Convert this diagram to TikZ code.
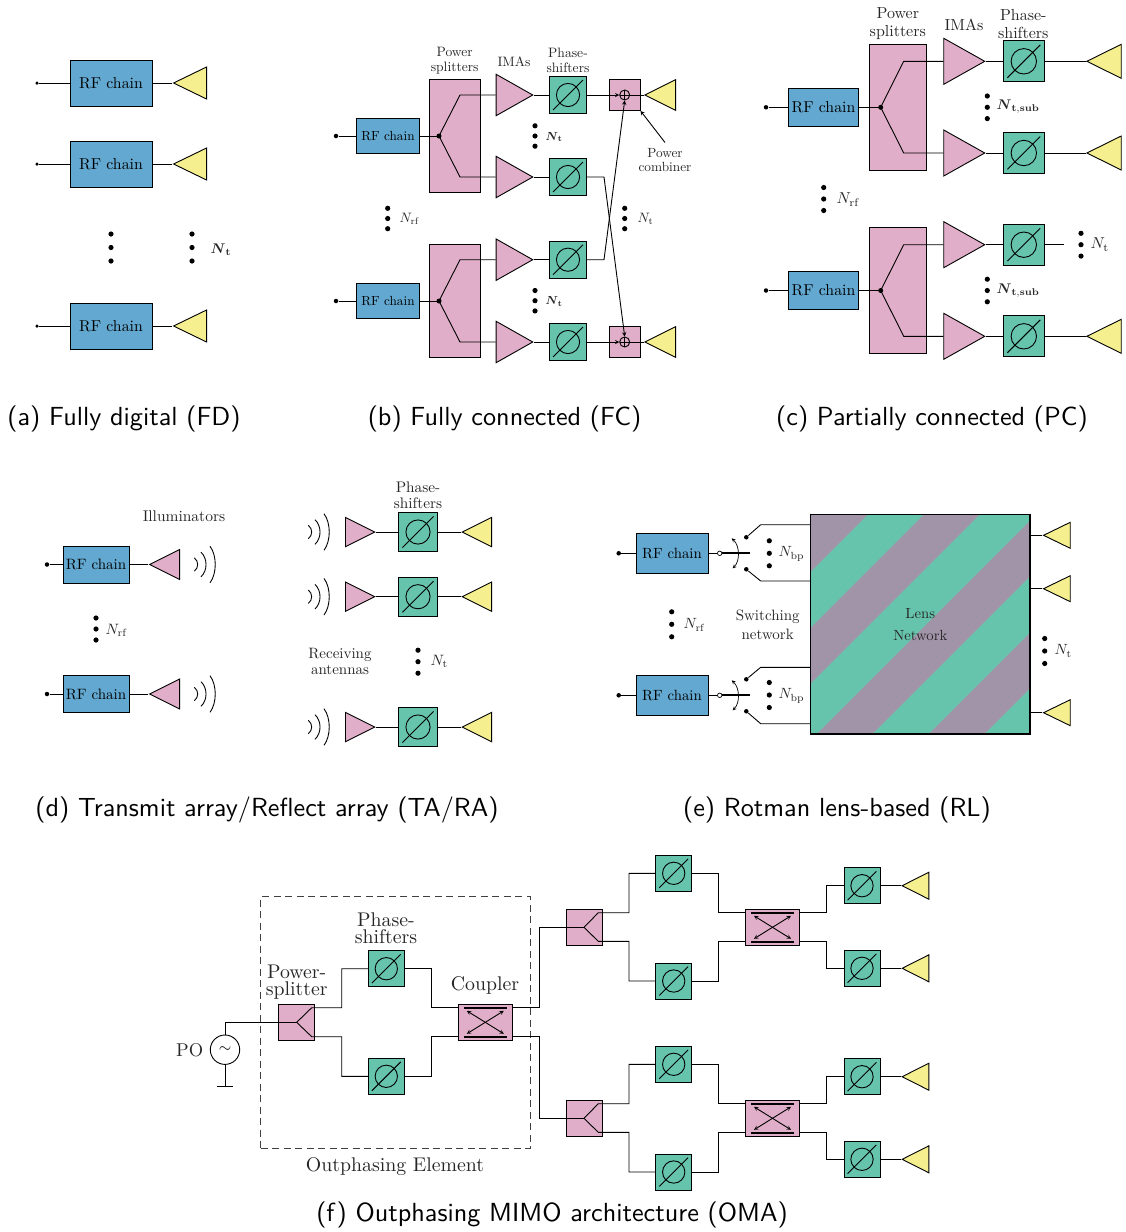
\documentclass[tikz,border=0pt]{standalone}
\usepackage{amsmath, graphicx}
\usetikzlibrary{shapes.geometric}

\definecolor{rfblue}{HTML}{62A8D0}
\definecolor{psgreen}{HTML}{66C4AC}
\definecolor{splitpink}{HTML}{E0AEC8}
\definecolor{antyellow}{HTML}{F5EF8F}
\definecolor{lensviolet}{HTML}{A294A8}

\begin{document}
\begin{tikzpicture}[x=1pt,y=-1pt,>=stealth,line width=0.9pt]
    % All coordinates are pixels of the page, y running downwards.

    \tikzset{
      rfbox/.style 2 args={draw, fill=rfblue, inner sep=0pt, minimum width=#1, minimum height=#2},
      pinkbox/.style 2 args={draw, fill=splitpink, inner sep=0pt, minimum width=#1, minimum height=#2},
      psbox/.style={draw, fill=psgreen, inner sep=0pt, minimum size=#1,
        path picture={
          \draw (path picture bounding box.center) circle ({#1*0.31});
          \draw ([shift={({-#1*0.4},{#1*0.4})}]path picture bounding box.center)
            -- ([shift={({#1*0.4},{-#1*0.4})}]path picture bounding box.center);
        }},
      tri/.style 2 args={isosceles triangle, isosceles triangle stretches, draw, inner sep=0pt,
        minimum height=#1, minimum width=#2, anchor=lower side},
      amp/.style 2 args={tri={#1}{#2}, fill=splitpink},
      txamp/.style 2 args={tri={#1}{#2}, fill=splitpink, shape border rotate=180},
      ant/.style 2 args={tri={#1}{#2}, fill=antyellow, shape border rotate=180},
      dot/.style={circle, fill, inner sep=0pt, minimum size=#1},
      dot/.default=4.5,
      lbl/.style 2 args={scale=#1, transform shape, font=\fontsize{10}{#2}\selectfont, align=center,
        inner sep=0pt, text=black!85},
      captext/.style={font=\sffamily, scale=2.62, transform shape, inner sep=0pt, anchor=base},
      coupler/.style={pinkbox={54}{36},
        path picture={
          \draw[line width=1.4pt] ([shift={(-21.5,-14.5)}]path picture bounding box.center)
            -- ([shift={(21.5,-14.5)}]path picture bounding box.center);
          \draw[line width=1.4pt] ([shift={(-21.5,14.5)}]path picture bounding box.center)
            -- ([shift={(21.5,14.5)}]path picture bounding box.center);
          \draw[<->] ([shift={(-18.5,-11.5)}]path picture bounding box.center)
            -- ([shift={(18.5,11.5)}]path picture bounding box.center);
          \draw[<->] ([shift={(-18.5,11.5)}]path picture bounding box.center)
            -- ([shift={(18.5,-11.5)}]path picture bounding box.center);
        }},
      sumnode/.style={circle, draw, inner sep=0pt, minimum size=10,
        path picture={
          \draw (path picture bounding box.north) -- (path picture bounding box.south);
          \draw (path picture bounding box.west) -- (path picture bounding box.east);
        }},
      vdots/.pic={
        \fill (0,-#1) circle (2.6);
        \fill (0,0) circle (2.6);
        \fill (0,#1) circle (2.6);
      },
      waves/.pic={
        \draw (0.3,-6.7) .. controls (4.8,-3.3) and (4.8,3.3) .. (0.3,6.7);
        \draw (7,-12.3) .. controls (13.7,-6) and (13.7,6) .. (7,12.3);
        \draw (16,-18.3) .. controls (23,-9) and (23,9) .. (16,18.3);
      }
    }

    \useasboundingbox (0,0) rectangle (1126,1232);

    % --- Panel a: fully digital
    \node[rfbox={82}{46}] (rfa1) at (111,83) {\scalebox{1.58}{RF chain}};
    \node[rfbox={82}{46}] (rfa2) at (111,164) {\scalebox{1.58}{RF chain}};
    \node[rfbox={82}{46}] (rfa3) at (111,326) {\scalebox{1.58}{RF chain}};
    \node[ant={33}{32}] (anta1) at (207,83) {};
    \node[ant={33}{32}] (anta2) at (207,164) {};
    \node[ant={33}{32}] (anta3) at (207,326) {};
    \node[dot=3.5] (ina1) at (37,83) {};
    \node[dot=3.5] (ina2) at (37,164) {};
    \node[dot=3.5] (ina3) at (37,326) {};
    \draw (ina1) -- (rfa1.west) (rfa1.east) -- (anta1.apex);
    \draw (ina2) -- (rfa2.west) (rfa2.east) -- (anta2.apex);
    \draw (ina3) -- (rfa3.west) (rfa3.east) -- (anta3.apex);
    \pic at (111,247.5) {vdots=13.5};
    \pic at (192,247.5) {vdots=13.5};
    \node[lbl={1.4}{11}, anchor=west] (nta) at (210,249.5) {$\boldsymbol{N}_{\mathbf{t}}$};
    \node[captext] (capa) at (124,425) {(a) Fully digital (FD)};

    % --- Panel b: fully connected
    \node[rfbox={62.6}{34.6}] (rfb1) at (388,136) {\scalebox{1.32}{RF chain}};
    \node[rfbox={62.6}{34.6}] (rfb2) at (388,301) {\scalebox{1.32}{RF chain}};
    \node[pinkbox={51.3}{113}] (spb1) at (454.7,136) {};
    \node[pinkbox={51.3}{113}] (spb2) at (454.7,300.7) {};
    \node[amp={36.6}{41.4}] (ampb1) at (495.7,95) {};
    \node[amp={36.6}{41.4}] (ampb2) at (495.7,177) {};
    \node[amp={36.6}{41.4}] (ampb3) at (495.7,259.7) {};
    \node[amp={36.6}{41.4}] (ampb4) at (495.7,342) {};
    \node[psbox=37.4] (psb1) at (568,95) {};
    \node[psbox=37.4] (psb2) at (568,177) {};
    \node[psbox=37.4] (psb3) at (568,259.7) {};
    \node[psbox=37.4] (psb4) at (568,342) {};
    \node[pinkbox={30.7}{30.7}] (cmbb1) at (624.7,95) {};
    \node[pinkbox={30.7}{30.7}] (cmbb2) at (624.7,342) {};
    \node[sumnode] (sumb1) at (cmbb1.center) {};
    \node[sumnode] (sumb2) at (cmbb2.center) {};
    \node[ant={30.7}{30.7}] (antb1) at (676,95) {};
    \node[ant={30.7}{30.7}] (antb2) at (676,342) {};
    \node[dot] (inb1) at (336,136) {};
    \node[dot] (inb2) at (336,301) {};
    \node[dot=5] (jb1) at (439,136) {};
    \node[dot=5] (jb2) at (439,301) {};
    \draw (inb1) -- (rfb1.west) (rfb1.east) -- (jb1.center);
    \draw (inb2) -- (rfb2.west) (rfb2.east) -- (jb2.center);
    \draw (jb1.center) -- (460,95) -- (ampb1.lower side);
    \draw (jb1.center) -- (460,177) -- (ampb2.lower side);
    \draw (jb2.center) -- (460,259.7) -- (ampb3.lower side);
    \draw (jb2.center) -- (460,342) -- (ampb4.lower side);
    \draw (ampb1.apex) -- (psb1.west) (ampb2.apex) -- (psb2.west);
    \draw (ampb3.apex) -- (psb3.west) (ampb4.apex) -- (psb4.west);
    \draw[->] (psb1.east) -- (sumb1.west);
    \draw[->] (psb4.east) -- (sumb2.west);
    \draw (sumb1.east) -- (antb1.apex) (sumb2.east) -- (antb2.apex);
    \draw[->] (psb2.east) -- (604,177) -- (sumb2.north);
    \draw[->] (psb3.east) -- (604,259.7) -- (sumb1.south);
    \node[lbl={1.36}{11}] (labb1) at (454.7,61) {Power\\splitters};
    \node[lbl={1.36}{11}] (labb2) at (514,62) {IMAs};
    \node[lbl={1.36}{11}] (labb3) at (568,60.5) {Phase-\\shifters};
    \node[lbl={1.33}{11}] (labb4) at (665,160) {Power\\combiner};
    \draw[->] ([yshift=5]labb4.north) -- (cmbb1.south east);
    \pic at (535,136) {vdots=10.2};
    \pic at (535,300.7) {vdots=10.2};
    \pic at (387.7,218.5) {vdots=10.2};
    \pic at (624.7,218.5) {vdots=10.2};
    \node[lbl={1.17}{11}, anchor=west] (ntb1) at (545,137) {$\boldsymbol{N}_{\mathbf{t}}$};
    \node[lbl={1.17}{11}, anchor=west] (ntb2) at (545,301.5) {$\boldsymbol{N}_{\mathbf{t}}$};
    \node[lbl={1.36}{11}, anchor=west] (nrfb) at (399,219) {$N_{\mathrm{rf}}$};
    \node[lbl={1.36}{11}, anchor=west] (ntb3) at (637,219) {$N_{\mathrm{t}}$};
    \node[captext] (capb) at (504.5,425) {(b) Fully connected (FC)};

    % --- Panel c: partially connected
    \node[rfbox={69.6}{38}] (rfc1) at (823.5,107.3) {\scalebox{1.58}{RF chain}};
    \node[rfbox={69.6}{38}] (rfc2) at (823.5,290.5) {\scalebox{1.58}{RF chain}};
    \node[pinkbox={57}{125.7}] (spc1) at (897.8,107.2) {};
    \node[pinkbox={57}{125.7}] (spc2) at (897.8,290.5) {};
    \node[amp={41}{46}] (ampc1) at (943.3,61.3) {};
    \node[amp={41}{46}] (ampc2) at (943.3,153) {};
    \node[amp={41}{46}] (ampc3) at (943.3,244.7) {};
    \node[amp={41}{46}] (ampc4) at (943.3,336.3) {};
    \node[psbox=41] (psc1) at (1023.8,61.3) {};
    \node[psbox=41] (psc2) at (1023.8,153) {};
    \node[psbox=41] (psc3) at (1023.8,244.7) {};
    \node[psbox=41] (psc4) at (1023.8,336.3) {};
    \node[ant={34.4}{34}] (antc1) at (1121.7,61.3) {};
    \node[ant={34.4}{34}] (antc2) at (1121.7,153) {};
    \node[ant={34.4}{34}] (antc4) at (1121.7,336.3) {};
    \coordinate (endc3) at (1064,244.7);
    \node[dot] (inc1) at (766,107.3) {};
    \node[dot] (inc2) at (766,290.5) {};
    \node[dot=5] (jc1) at (880.7,107.3) {};
    \node[dot=5] (jc2) at (880.7,290.5) {};
    \draw (inc1) -- (rfc1.west) (rfc1.east) -- (jc1.center);
    \draw (inc2) -- (rfc2.west) (rfc2.east) -- (jc2.center);
    \draw (jc1.center) -- (903.7,61.3) -- (ampc1.lower side);
    \draw (jc1.center) -- (903.7,153) -- (ampc2.lower side);
    \draw (jc2.center) -- (903.7,244.7) -- (ampc3.lower side);
    \draw (jc2.center) -- (903.7,336.3) -- (ampc4.lower side);
    \draw (ampc1.apex) -- (psc1.west) (psc1.east) -- (antc1.apex);
    \draw (ampc2.apex) -- (psc2.west) (psc2.east) -- (antc2.apex);
    \draw (ampc3.apex) -- (psc3.west) (psc3.east) -- (endc3);
    \draw (ampc4.apex) -- (psc4.west) (psc4.east) -- (antc4.apex);
    \node[lbl={1.6}{11}] (labc1) at (897.8,23.5) {Power\\splitters};
    \node[lbl={1.6}{11}] (labc2) at (964,25.3) {IMAs};
    \node[lbl={1.6}{11}] (labc3) at (1023.3,24) {Phase-\\shifters};
    \pic at (987.3,107.3) {vdots=11.3};
    \pic at (987.3,290.5) {vdots=11.3};
    \pic at (823.7,199) {vdots=11.5};
    \pic at (1081,244.7) {vdots=11.4};
    \node[lbl={1.4}{11}, anchor=west] (ntc1) at (996,107) {$\boldsymbol{N}_{\mathbf{t,sub}}$};
    \node[lbl={1.4}{11}, anchor=west] (ntc2) at (996,291) {$\boldsymbol{N}_{\mathbf{t,sub}}$};
    \node[lbl={1.58}{11}, anchor=west] (nrfc) at (836,199.5) {$N_{\mathrm{rf}}$};
    \node[lbl={1.58}{11}, anchor=west] (ntc3) at (1090,244.5) {$N_{\mathrm{t}}$};
    \node[captext] (capc) at (932,425) {(c) Partially connected (PC)};

    % --- Panel d: transmit array / reflect array
    \node[rfbox={66}{37}] (rfd1) at (96,564.5) {\scalebox{1.5}{RF chain}};
    \node[rfbox={66}{37}] (rfd2) at (96,694) {\scalebox{1.5}{RF chain}};
    \node[txamp={30}{30}] (ampd1) at (180,564.5) {};
    \node[txamp={30}{30}] (ampd2) at (180,694) {};
    \node[dot] (ind1) at (47,564.5) {};
    \node[dot] (ind2) at (47,694) {};
    \draw (ind1) -- (rfd1.west) (rfd1.east) -- (ampd1.apex);
    \draw (ind2) -- (rfd2.west) (rfd2.east) -- (ampd2.apex);
    \pic at (194,564.5) {waves};
    \pic at (194,694) {waves};
    \pic at (96,629) {vdots=11};
    \node[lbl={1.55}{11}] (labd1) at (184,516) {Illuminators};
    \node[lbl={1.5}{11}, anchor=west] (nrfd) at (105,630) {$N_{\mathrm{rf}}$};
    \node[amp={29.3}{29.3}] (ampd3) at (345,532) {};
    \node[amp={29.3}{29.3}] (ampd4) at (345,596.7) {};
    \node[amp={29.3}{29.3}] (ampd5) at (345,727) {};
    \node[psbox=39] (psd3) at (418,532) {};
    \node[psbox=39] (psd4) at (418,596.7) {};
    \node[psbox=39] (psd5) at (418,727) {};
    \node[ant={29.3}{29.3}] (antd3) at (492,532) {};
    \node[ant={29.3}{29.3}] (antd4) at (492,596.7) {};
    \node[ant={29.3}{29.3}] (antd5) at (492,727) {};
    \draw (ampd3.apex) -- (psd3.west) (psd3.east) -- (antd3.apex);
    \draw (ampd4.apex) -- (psd4.west) (psd4.east) -- (antd4.apex);
    \draw (ampd5.apex) -- (psd5.west) (psd5.east) -- (antd5.apex);
    \pic at (308,532) {waves};
    \pic at (308,596.7) {waves};
    \pic at (308,727) {waves};
    \node[lbl={1.53}{10.5}] (labd2) at (418,495) {Phase-\\shifters};
    \node[lbl={1.5}{11}] (labd3) at (340,661.5) {Receiving\\antennas};
    \pic at (418,661.7) {vdots=11.5};
    \node[lbl={1.5}{11}, anchor=west] (ntd) at (430,661.5) {$N_{\mathrm{t}}$};
    \node[captext] (capd) at (267,816) {(d) Transmit array/Reflect array (TA/RA)};

    % --- Panel e: Rotman lens
    \begin{scope}[shift={(810.7,514.7)}]
      \clip (0,0) rectangle (219.3,219.3);
      \fill[lensviolet] (0,0) rectangle (219.3,219.3);
      \fill[psgreen] (57.3,0) -- (113,0) -- (-337,450) -- (-392.7,450) -- cycle;
      \fill[psgreen] (169,0) -- (225.3,0) -- (-224.7,450) -- (-281,450) -- cycle;
      \fill[psgreen] (281.3,0) -- (337.3,0) -- (-112.7,450) -- (-168.7,450) -- cycle;
      \fill[psgreen] (393.3,0) -- (449.3,0) -- (-0.7,450) -- (-56.7,450) -- cycle;
    \end{scope}
    \node[draw, line width=1.3pt, inner sep=0pt, minimum size=219.3] (lens) at (920.3,624.3) {};
    \node[lbl={1.47}{15}] (lenstxt) at (lens.center) {Lens\\Network};
    \node[rfbox={72}{40}] (rfe1) at (672,553.3) {\scalebox{1.48}{RF chain}};
    \node[rfbox={72}{40}] (rfe2) at (672,695.3) {\scalebox{1.48}{RF chain}};
    \node[dot] (ine1) at (618.7,553.3) {};
    \node[dot] (ine2) at (618.7,695.3) {};
    \node[circle, draw, fill=white, inner sep=0pt, minimum size=4.5, line width=0.7pt] (pole1) at (719.7,553.3) {};
    \node[circle, draw, fill=white, inner sep=0pt, minimum size=4.5, line width=0.7pt] (pole2) at (719.7,695.3) {};
    \coordinate (throw1) at (750,553.3);
    \coordinate (throw2) at (750,695.3);
    \node[dot] (swa1) at (746.3,537.3) {};
    \node[dot] (swa2) at (746.3,569.3) {};
    \node[dot] (swb1) at (746.3,679.3) {};
    \node[dot] (swb2) at (746.3,711.3) {};
    \coordinate (bena1) at (760.7,524.7);
    \coordinate (bena2) at (760.7,581);
    \coordinate (benb1) at (760.7,667.3);
    \coordinate (benb2) at (760.7,723.7);
    \draw (ine1) -- (rfe1.west) (rfe1.east) -- (pole1.west);
    \draw (ine2) -- (rfe2.west) (rfe2.east) -- (pole2.west);
    \draw[line width=1.8pt] (pole1.east) -- (throw1);
    \draw[line width=1.8pt] (pole2.east) -- (throw2);
    \draw[<->, line width=0.7pt] (731.7,538.3) .. controls (740,546) and (740,561) .. (732.7,568.3);
    \draw[<->, line width=0.7pt] (731.7,680.3) .. controls (740,688) and (740,703) .. (732.7,710.3);
    \draw (swa1) -- (bena1) -- (bena1 -| lens.west);
    \draw (swa2) -- (bena2) -- (bena2 -| lens.west);
    \draw (swb1) -- (benb1) -- (benb1 -| lens.west);
    \draw (swb2) -- (benb2) -- (benb2 -| lens.west);
    \node[ant={26.7}{26}] (ante1) at (1070.7,535.3) {};
    \node[ant={26.7}{26}] (ante2) at (1070.7,588.7) {};
    \node[ant={26.7}{26}] (ante3) at (1070.7,712.7) {};
    \draw (ante1.apex) -- (ante1.apex -| lens.east);
    \draw (ante2.apex) -- (ante2.apex -| lens.east);
    \draw (ante3.apex) -- (ante3.apex -| lens.east);
    \pic at (769.3,553.3) {vdots=12.5};
    \pic at (769.3,695) {vdots=12.5};
    \pic at (671.7,624.3) {vdots=12.5};
    \pic at (1044.7,651) {vdots=12.5};
    \node[lbl={1.48}{11}, anchor=west] (nbpe1) at (778,554) {$N_{\mathrm{bp}}$};
    \node[lbl={1.48}{11}, anchor=west] (nbpe2) at (778,696) {$N_{\mathrm{bp}}$};
    \node[lbl={1.48}{11}, anchor=west] (nrfe) at (683,625) {$N_{\mathrm{rf}}$};
    \node[lbl={1.48}{11}, anchor=west] (nte) at (1054,651) {$N_{\mathrm{t}}$};
    \node[lbl={1.5}{12.7}] (labe) at (767.7,624.5) {Switching\\network};
    \node[captext] (cape) at (837,816) {(e) Rotman lens-based (RL)};

    % --- Panel f: outphasing element with two further stages
    \node[draw=black!75, dashed, dash pattern=on 7pt off 4.5pt, inner sep=0pt,
      minimum width=269.6, minimum height=251.3] (oe) at (395.5,1022.3) {};
    \node[circle, draw, inner sep=0pt, minimum size=29.4] (po) at (225,1049.7) {\scalebox{1.6}{$\sim$}};
    \coordinate (gnd) at (225,1086.7);
    \node[pinkbox={36}{36}] (spf) at (296.7,1022.3) {};
    \node[psbox=36] (psf1) at (386.3,968.7) {};
    \node[psbox=36] (psf2) at (386.3,1076.3) {};
    \node[coupler] (cpf) at (485.3,1022.3) {};
    \coordinate (forkf1) at (311.7,1007.7);
    \coordinate (forkf2) at (311.7,1036.7);
    \coordinate (cinf1) at (458.3,1007.7);
    \coordinate (cinf2) at (458.3,1036.7);
    \coordinate (coutf1) at (512.3,1007.7);
    \coordinate (coutf2) at (512.3,1036.7);
    \draw (po.north) |- (spf.center);
    \draw (po.south) -- (gnd);
    \draw ([xshift=-7.7]gnd) -- ([xshift=7.7]gnd);
    \draw (spf.center) -- (forkf1) -- (341.7,1007.7) |- (psf1.west);
    \draw (spf.center) -- (forkf2) -- (341.7,1036.7) |- (psf2.west);
    \draw (psf1.east) -| (431.3,1007.7) -- (cinf1);
    \draw (psf2.east) -| (431.3,1036.7) -- (cinf2);
    \node[lbl={1.98}{8.8}] (labf1) at (296.7,982) {Power-\\splitter};
    \node[lbl={1.98}{8.8}] (labf2) at (386,928) {Phase-\\shifters};
    \node[lbl={1.98}{8.8}] (labf3) at (485,985) {Coupler};
    \node[lbl={1.98}{8.8}] (labf4) at (395,1166.5) {Outphasing Element};
    \node[lbl={1.85}{8.8}, anchor=east] (labf5) at (204,1049.7) {PO};

    \begin{scope}[shift={(0,0)}, name prefix=u-]
      \node[pinkbox={36}{36}] (sp) at (584,927.3) {};
      \node[psbox=36] (ps1) at (673.7,873.3) {};
      \node[psbox=36] (ps2) at (673.7,981) {};
      \node[coupler] (cp) at (772.5,927.3) {};
      \node[psbox=36] (ps3) at (862,885.7) {};
      \node[psbox=36] (ps4) at (862,968.3) {};
      \node[ant={26.7}{27}] (ant1) at (929.3,885.7) {};
      \node[ant={26.7}{27}] (ant2) at (929.3,968.3) {};
      \draw (sp.center) -- (598.3,912.7) -- (629,912.7) |- (ps1.west);
      \draw (sp.center) -- (598.3,941.3) -- (629,941.3) |- (ps2.west);
      \draw (ps1.east) -| (718.7,912.7) -- (745.7,912.7);
      \draw (ps2.east) -| (718.7,941.3) -- (745.7,941.3);
      \draw (799.3,912.7) -- (826.3,912.7) |- (ps3.west);
      \draw (799.3,941.3) -- (826.3,941.3) |- (ps4.west);
      \draw (ps3.east) -- (ant1.apex);
      \draw (ps4.east) -- (ant2.apex);
    \end{scope}

    \begin{scope}[shift={(0,191)}, name prefix=l-]
      \node[pinkbox={36}{36}] (sp) at (584,927.3) {};
      \node[psbox=36] (ps1) at (673.7,873.3) {};
      \node[psbox=36] (ps2) at (673.7,981) {};
      \node[coupler] (cp) at (772.5,927.3) {};
      \node[psbox=36] (ps3) at (862,885.7) {};
      \node[psbox=36] (ps4) at (862,968.3) {};
      \node[ant={26.7}{27}] (ant1) at (929.3,885.7) {};
      \node[ant={26.7}{27}] (ant2) at (929.3,968.3) {};
      \draw (sp.center) -- (598.3,912.7) -- (629,912.7) |- (ps1.west);
      \draw (sp.center) -- (598.3,941.3) -- (629,941.3) |- (ps2.west);
      \draw (ps1.east) -| (718.7,912.7) -- (745.7,912.7);
      \draw (ps2.east) -| (718.7,941.3) -- (745.7,941.3);
      \draw (799.3,912.7) -- (826.3,912.7) |- (ps3.west);
      \draw (799.3,941.3) -- (826.3,941.3) |- (ps4.west);
      \draw (ps3.east) -- (ant1.apex);
      \draw (ps4.east) -- (ant2.apex);
    \end{scope}

    \draw (coutf1) -- (539,1007.7) |- (u-sp.center);
    \draw (coutf2) -- (539,1036.7) |- (l-sp.center);
    \node[captext] (capf) at (552,1221) {(f) Outphasing MIMO architecture (OMA)};
  \end{tikzpicture}
\end{document}
